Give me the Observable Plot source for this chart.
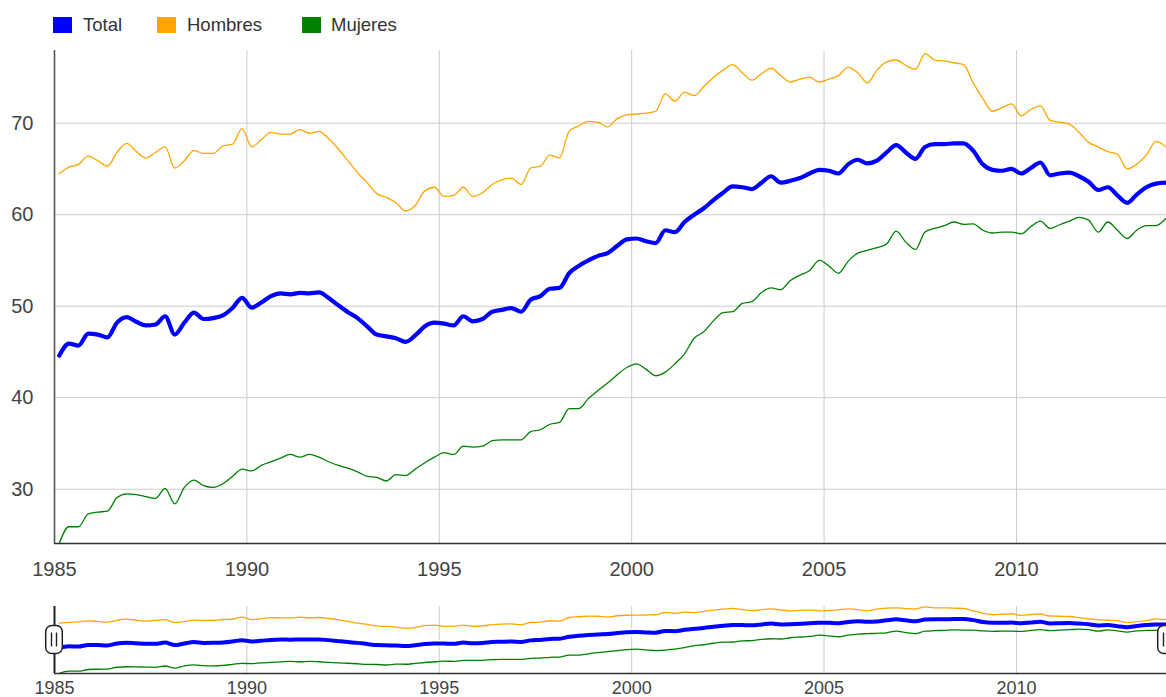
<!DOCTYPE html>
<html><head><meta charset="utf-8">
<script src="https://cdn.jsdelivr.net/npm/d3@7"></script>
<script src="https://cdn.jsdelivr.net/npm/@observablehq/plot@0.6"></script>
<style>
body{margin:0;background:#fff;font-family:"Liberation Sans",Arial,sans-serif;}
#wrap{position:relative;width:1166px;height:697px;overflow:hidden;background:#fff;}
#legend{position:relative;height:45px;}
.sw{position:absolute;top:17px;width:19px;height:16px;}
.lb{position:absolute;top:13px;font-size:18.5px;color:#333;line-height:24px;white-space:nowrap;}
svg{display:block;}
</style></head><body>
<div id="wrap">
<div id="legend"></div>
<div id="main"></div>
<div id="mini"></div>
</div>
<script>
const series = ["Total", "Hombres", "Mujeres"];
const colors = ["#0000ff", "#ffa500", "#008000"];
const startYear = 1985; // quarterly series, first quarter of 1985
const xTicks = [1985, 1990, 1995, 2000, 2005, 2010];
const yTicks = [30, 40, 50, 60, 70];

const total = [
  44.6, 45.9, 45.7, 47.0,  46.9, 46.6, 48.2, 48.8,  48.3, 47.9, 48.0, 48.9,
  46.9, 48.2, 49.3, 48.6,  48.7, 49.0, 49.8, 50.9,  49.85, 50.4, 51.1, 51.4,
  51.3, 51.45, 51.4, 51.5, 50.9, 50.1, 49.35, 48.7, 47.8, 46.9, 46.7, 46.5,
  46.1, 46.8, 47.8, 48.2,  48.1, 47.9, 48.9, 48.35, 48.6, 49.4, 49.6, 49.8,
  49.4, 50.7, 51.1, 51.9,  52.0, 53.6, 54.4, 55.0,  55.5, 55.8, 56.6, 57.3,
  57.4, 57.1, 56.9, 58.3,  58.1, 59.2, 60.0, 60.7,  61.6, 62.4, 63.1, 63.0,
  62.8, 63.5, 64.2, 63.5,  63.7, 64.0, 64.5, 64.9,  64.8, 64.5, 65.5, 66.0,
  65.6, 65.9, 66.8, 67.6,  66.8, 66.1, 67.4, 67.7,  67.7, 67.8, 67.8, 67.0,
  65.5, 64.9, 64.8, 65.0,  64.5, 65.1, 65.7, 64.3,  64.5, 64.6, 64.2, 63.6,
  62.7, 63.0, 62.1, 61.3,  62.2, 63.0, 63.4, 63.5
];
const hombres = [
  64.5, 65.2, 65.5, 66.4,  65.9, 65.3, 66.8, 67.8,  66.9, 66.2, 66.8, 67.4,
  65.1, 65.9, 67.0, 66.7,  66.7, 67.5, 67.7, 69.4,  67.4, 68.2, 69.0, 68.8,
  68.8, 69.3, 68.9, 69.1,  68.3, 67.2, 65.9, 64.6,  63.5, 62.3, 61.9, 61.3,
  60.4, 61.0, 62.6, 63.0,  62.0, 62.1, 63.0, 62.0,  62.4, 63.3, 63.8, 64.0,
  63.3, 65.1, 65.3, 66.5,  66.2, 69.1, 69.7, 70.2,  70.1, 69.6, 70.5, 70.9,
  71.0, 71.1, 71.3, 73.2,  72.4, 73.4, 73.0, 74.0,  75.0, 75.8, 76.4, 75.5,
  74.7, 75.4, 76.0, 75.2,  74.5, 74.8, 75.0, 74.5,  74.8, 75.2, 76.1, 75.5,
  74.4, 75.8, 76.7, 76.9,  76.3, 75.9, 77.6, 76.9,  76.8, 76.6, 76.4, 74.4,
  72.7, 71.3, 71.7, 72.1,  70.8, 71.5, 71.9, 70.3,  70.1, 69.9, 69.0, 67.9,
  67.4, 66.9, 66.6, 65.0,  65.5, 66.5, 68.0, 67.45
];
const mujeres = [
  24.1, 25.9, 25.9, 27.3,  27.5, 27.6, 29.1, 29.5,  29.4, 29.2, 29.0, 30.1,
  28.4, 30.2, 31.0, 30.4,  30.2, 30.6, 31.4, 32.2,  32.0, 32.6, 33.0, 33.4,
  33.8, 33.5, 33.8, 33.5,  33.0, 32.6, 32.3, 31.9,  31.4, 31.3, 30.9, 31.6,
  31.5, 32.2, 32.9, 33.5,  34.0, 33.8, 34.7, 34.6,  34.7, 35.3, 35.4, 35.4,
  35.4, 36.3, 36.5, 37.1,  37.3, 38.8, 38.8, 39.9,  40.8, 41.6, 42.5, 43.3,
  43.7, 43.1, 42.4, 42.8,  43.7, 44.8, 46.5, 47.2,  48.4, 49.3, 49.4, 50.3,
  50.5, 51.5, 52.0, 51.8,  52.8, 53.4, 53.9, 55.0,  54.4, 53.6, 54.9, 55.8,
  56.1, 56.4, 56.8, 58.2,  57.0, 56.2, 58.1, 58.5,  58.8, 59.2, 58.95, 59.0,
  58.3, 58.0, 58.1, 58.1,  57.9, 58.7, 59.3, 58.5,  58.9, 59.3, 59.7, 59.4,
  58.1, 59.2, 58.3, 57.4,  58.3, 58.8, 58.8, 59.55
];

// ---- derived tables ----
const values = [total, hombres, mujeres];
const rows = series.map((s, k) => values[k].map((v, i) => ({s, t: startYear + (i + 0.5) / 4, v})));
const xDomain = [1985, 2013.9];
const yDomain = [24.07, 77.94];
const font = '"Liberation Sans", Arial, sans-serif';

// ---- legend (HTML, above the SVG) ----
const legendPos = [[53, 83], [157, 187], [302, 331]];
const legend = document.getElementById("legend");
series.forEach((s, k) => {
  const sw = document.createElement("div");
  sw.className = "sw"; sw.style.left = legendPos[k][0] + "px"; sw.style.background = colors[k];
  const lb = document.createElement("div");
  lb.className = "lb"; lb.style.left = legendPos[k][1] + "px"; lb.textContent = s;
  legend.append(sw, lb);
});

function lineMarks(thick, thin, halo) {
  const m = [];
  m.push(Plot.line(rows[1], {x: "t", y: "v", stroke: colors[1], strokeWidth: thin, curve: "monotone-x"}));
  m.push(Plot.line(rows[2], {x: "t", y: "v", stroke: colors[2], strokeWidth: thin, curve: "monotone-x"}));
  if (halo) m.push(Plot.line(rows[0], {x: "t", y: "v", stroke: "#fff", strokeWidth: thick + 3, curve: "monotone-x"}));
  m.push(Plot.line(rows[0], {x: "t", y: "v", stroke: colors[0], strokeWidth: thick, curve: "monotone-x"}));
  return m;
}

// ---- main chart ----
const main = Plot.plot({
  width: 1166, height: 550,
  marginTop: 5, marginBottom: 52, marginLeft: 54, marginRight: 0,
  x: {domain: xDomain, axis: null},
  y: {domain: yDomain, axis: null},
  style: {fontFamily: font, color: "#444", background: "transparent", overflow: "visible"},
  marks: [
    Plot.ruleX(xTicks.slice(1), {stroke: "#cccccc", strokeWidth: 1}),
    Plot.ruleY(yTicks, {stroke: "#cccccc", strokeWidth: 1}),
    Plot.axisX(xTicks, {tickSize: 0, tickPadding: 18, fontSize: 20, label: null, tickFormat: d => String(d)}),
    Plot.axisY(yTicks, {tickSize: 0, tickPadding: 21, fontSize: 20, label: null}),
    ...lineMarks(4.2, 1.3, false),
    Plot.ruleX([xDomain[0]], {stroke: "#555", strokeWidth: 1.6}),
    Plot.ruleY([yDomain[0]], {stroke: "#333", strokeWidth: 1.6})
  ]
});
document.getElementById("main").append(main);

// ---- range-selector strip ----
function handle(xv) {
  return (index, scales, vals, dims) => {
    const x = scales.x(xv);
    const yc = (dims.marginTop + dims.height - dims.marginBottom) / 2;
    const g = d3.create("svg:g");
    g.append("rect").attr("x", x - 8.3).attr("y", yc - 14).attr("width", 16.6).attr("height", 28)
      .attr("rx", 6).attr("fill", "#fff").attr("stroke", "#222").attr("stroke-width", 1.5);
    [-2.5, 2.5].forEach(dx => g.append("line").attr("x1", x + dx).attr("x2", x + dx)
      .attr("y1", yc - 7).attr("y2", yc + 7).attr("stroke", "#222").attr("stroke-width", 1.4));
    return g.node();
  };
}
const mini = Plot.plot({
  width: 1166, height: 102,
  marginTop: 11, marginBottom: 24, marginLeft: 54, marginRight: 0,
  x: {domain: xDomain, axis: null},
  y: {domain: yDomain, axis: null},
  style: {fontFamily: font, color: "#444", background: "transparent", overflow: "visible"},
  marks: [
    Plot.ruleX(xTicks.slice(1), {stroke: "#cccccc", strokeWidth: 1}),
    Plot.axisX(xTicks, {tickSize: 0, tickPadding: 8, fontSize: 18, label: null, tickFormat: d => String(d)}),
    ...lineMarks(4, 1.3, true),
    Plot.ruleY([yDomain[0]], {stroke: "#333", strokeWidth: 1.6}),
    Plot.ruleX([xDomain[0]], {stroke: "#222", strokeWidth: 2}),
    handle(xDomain[0]),
    handle(xDomain[1])
  ]
});
document.getElementById("mini").append(mini);
</script>
</body></html>
